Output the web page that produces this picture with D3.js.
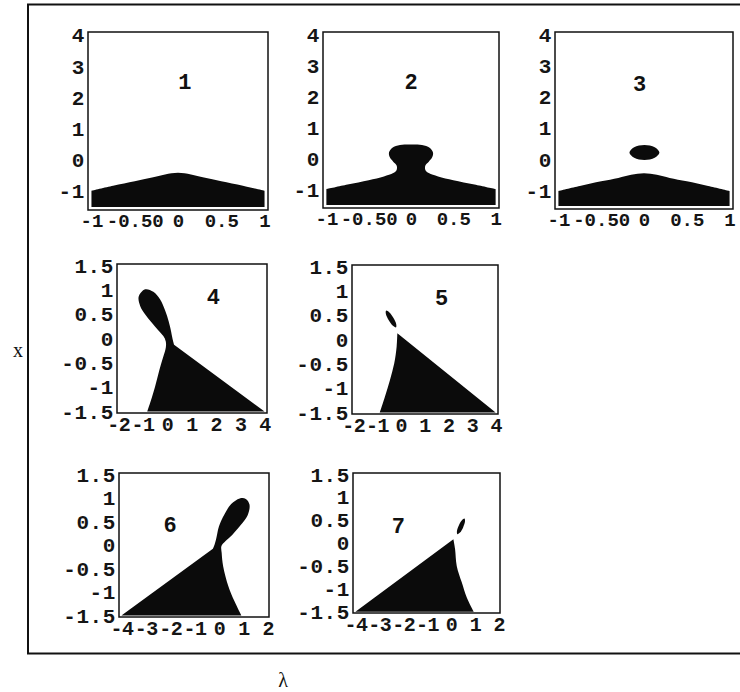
<!DOCTYPE html>
<html>
<head>
<meta charset="utf-8">
<script src="https://cdn.jsdelivr.net/npm/d3@7"></script>
<style>
  html, body { margin: 0; padding: 0; background: #fff; }
  svg { display: block; }
  .tick text { font-family: "Liberation Mono", "DejaVu Sans Mono", monospace; font-weight: bold; fill: #151515; }
  .xax .tick text { font-size: 19px; }
  .xax.tight .tick text { font-size: 20px; letter-spacing: -0.5px; }
  .yax .tick text { font-size: 21px; letter-spacing: 0.6px; }
  .num { font-family: "Liberation Mono", monospace; font-weight: bold; font-size: 22px; fill: #111; }
  .title { font-family: "Liberation Serif", serif; fill: #111; }
</style>
</head>
<body>
<svg id="chart" width="740" height="692"></svg>
<script>
// ---- tick values and their printed labels ----
const topXTicks = [-1, -0.5, 0, 0.5, 1];
const topXLabels = ["-1", "-0.50", "0", "0.5", "1"];
const topYTicks = [-1, 0, 1, 2, 3, 4];
const midXTicks = [-2, -1, 0, 1, 2, 3, 4];
const lowXTicks = [-4, -3, -2, -1, 0, 1, 2];
const lowYTicks = [-1.5, -1, -0.5, 0, 0.5, 1, 1.5];

// ---- panel captions and their (λ, x) anchor ----
const panelNames = ["1", "2", "3", "4", "5", "6", "7"];
const panelNameAt = [[0.08, 2.45], [0.0, 2.42], [-0.05, 2.38], [1.9, 0.83], [1.72, 0.83], [-2.0, 0.4], [-2.2, 0.34]];

// ---- region boundaries, points are (λ, x) ----
// panel 1: dome over the floor
const p1Edge = [[-1, -0.98], [-0.75, -0.82], [-0.5, -0.68], [-0.3, -0.56], [-0.15, -0.46], [0, -0.41],
                [0.15, -0.46], [0.3, -0.56], [0.5, -0.68], [0.75, -0.82], [1, -0.98]];
const p1Floor = [[1, -1.5], [-1, -1.5]];

// panel 2: dome with a bulb on top
const p2Edge = [[-1, -0.99], [-0.75, -0.84], [-0.5, -0.7], [-0.32, -0.58], [-0.21, -0.47], [-0.17, -0.37],
                [-0.17, -0.22], [-0.21, -0.1], [-0.25, 0.04], [-0.26, 0.2], [-0.22, 0.35], [-0.13, 0.44],
                [0, 0.46], [0.13, 0.44], [0.22, 0.35], [0.26, 0.2], [0.25, 0.04], [0.21, -0.1],
                [0.17, -0.22], [0.17, -0.37], [0.21, -0.47], [0.32, -0.58], [0.5, -0.7], [0.75, -0.84], [1, -0.99]];
const p2Floor = [[1, -1.5], [-1, -1.5]];

// panel 3: dome plus a detached island
const p3Edge = [[-1, -1.02], [-0.75, -0.86], [-0.5, -0.71], [-0.3, -0.6], [-0.15, -0.5], [0, -0.45],
                [0.15, -0.5], [0.3, -0.6], [0.5, -0.71], [0.75, -0.86], [1, -1.02]];
const p3Floor = [[1, -1.5], [-1, -1.5]];
const p3Island = [[0.18, 0.22], [0.125, 0.39], [0.005, 0.46], [-0.115, 0.39], [-0.17, 0.22],
                  [-0.115, 0.05], [0.005, -0.02], [0.125, 0.05]];

// panel 4: wedge joined to a lobe through a neck
const p4Edge = [[-0.81, -1.5], [-0.67, -1.29], [-0.49, -0.99], [-0.31, -0.64], [-0.15, -0.37], [-0.05, -0.19],
                [-0.05, -0.06], [-0.15, 0.05], [-0.36, 0.17], [-0.63, 0.33], [-0.9, 0.5], [-1.1, 0.67],
                [-1.16, 0.86], [-0.9, 1.01], [-0.56, 0.96], [-0.28, 0.8], [-0.08, 0.58], [0.07, 0.35],
                [0.17, 0.14], [0.22, 0.01], [0.29, -0.13]];
const p4Straight = [[4, -1.5]];

// panel 5: wedge plus a thin island
const p5Edge = [[-0.14, 0.13], [-0.17, -0.15], [-0.27, -0.49], [-0.45, -0.83], [-0.66, -1.17], [-0.88, -1.5]];
const p5Straight = [[4, -1.5]];
const p5Island = [[-0.615, 0.592], [-0.485, 0.562], [-0.309, 0.449], [-0.189, 0.319], [-0.196, 0.25],
                  [-0.326, 0.28], [-0.502, 0.393], [-0.622, 0.523]];

// panel 6: wedge joined to a lobe through a neck
const p6Edge = [[0.92, -1.5], [0.63, -1.19], [0.38, -0.87], [0.17, -0.45], [0.11, -0.17], [0.1, -0.02],
                [0.26, 0.08], [0.55, 0.22], [0.9, 0.43], [1.18, 0.64], [1.25, 0.86], [1.1, 0.98],
                [0.85, 0.99], [0.5, 0.87], [0.22, 0.65], [0.0, 0.4], [-0.12, 0.12], [-0.18, 0.01], [-0.25, -0.08]];
const p6Straight = [[-4, -1.5]];

// panel 7: wedge plus a thin island
const p7Edge = [[0.1, 0.08], [0.17, -0.13], [0.24, -0.5], [0.45, -0.86], [0.66, -1.19], [0.95, -1.5]];
const p7Straight = [[-4, -1.5]];
const p7Island = [[0.565, 0.534], [0.585, 0.468], [0.507, 0.341], [0.376, 0.227], [0.268, 0.192],
                  [0.248, 0.258], [0.326, 0.385], [0.458, 0.498]];

// ---- layout ----
const topDomX = [-1.04, 1.04], topDomY = [-1.6, 4.1];
const midDomX = [-2.05, 4.1], lowDomX = [-4.1, 2.05], sqDomY = [-1.53, 1.53];
const plain = d => String(d);
const topFmt = d => topXLabels[topXTicks.indexOf(d)];

const panels = [
  { box: [88, 32, 268, 210],  dx: topDomX, dy: topDomY, xt: topXTicks, xf: topFmt, yt: topYTicks, tight: false,
    regions: [{ edge: p1Edge, straight: p1Floor }], islands: [] },
  { box: [323, 32, 499, 208], dx: topDomX, dy: topDomY, xt: topXTicks, xf: topFmt, yt: topYTicks, tight: false,
    regions: [{ edge: p2Edge, straight: p2Floor }], islands: [] },
  { box: [555, 32, 733, 209], dx: topDomX, dy: topDomY, xt: topXTicks, xf: topFmt, yt: topYTicks, tight: false,
    regions: [{ edge: p3Edge, straight: p3Floor }], islands: [p3Island] },
  { box: [117, 264, 267, 413], dx: midDomX, dy: sqDomY, xt: midXTicks, xf: plain, yt: lowYTicks, tight: true,
    regions: [{ edge: p4Edge, straight: p4Straight }], islands: [] },
  { box: [352, 265, 498, 414], dx: midDomX, dy: sqDomY, xt: midXTicks, xf: plain, yt: lowYTicks, tight: true,
    regions: [{ edge: p5Edge, straight: p5Straight }], islands: [p5Island] },
  { box: [119, 473, 269, 617], dx: lowDomX, dy: sqDomY, xt: lowXTicks, xf: plain, yt: lowYTicks, tight: true,
    regions: [{ edge: p6Edge, straight: p6Straight }], islands: [] },
  { box: [353, 473, 500, 613], dx: lowDomX, dy: sqDomY, xt: lowXTicks, xf: plain, yt: lowYTicks, tight: true,
    regions: [{ edge: p7Edge, straight: p7Straight }], islands: [p7Island] }
];

const svg = d3.select("#chart");

// outer frame (runs off the right edge)
svg.append("rect")
  .attr("x", 28).attr("y", 4.5).attr("width", 760).attr("height", 649)
  .attr("fill", "none").attr("stroke", "#111").attr("stroke-width", 2);

panels.forEach((p, i) => {
  const [x0, y0, x1, y1] = p.box;
  const sx = d3.scaleLinear().domain(p.dx).range([x0, x1]);
  const sy = d3.scaleLinear().domain(p.dy).range([y1, y0]);
  const g = svg.append("g");

  const open = d3.line().x(d => sx(d[0])).y(d => sy(d[1])).curve(d3.curveCatmullRom.alpha(0.5));
  const closed = d3.line().x(d => sx(d[0])).y(d => sy(d[1])).curve(d3.curveCatmullRomClosed.alpha(0.5));

  p.regions.forEach(r => {
    let s = open(r.edge);
    r.straight.forEach(q => { s += `L${sx(q[0])},${sy(q[1])}`; });
    g.append("path").attr("d", s + "Z").attr("fill", "#0b0b0b");
  });
  p.islands.forEach(isl => {
    g.append("path").attr("d", closed(isl)).attr("fill", "#0b0b0b");
  });

  g.append("rect")
    .attr("x", x0).attr("y", y0).attr("width", x1 - x0).attr("height", y1 - y0)
    .attr("fill", "none").attr("stroke", "#111").attr("stroke-width", 1.5);

  g.append("g").attr("class", p.tight ? "xax tight" : "xax").attr("transform", `translate(0,${y1})`)
    .call(d3.axisBottom(sx).tickValues(p.xt).tickFormat(p.xf).tickSize(0).tickPadding(4))
    .call(a => a.select(".domain").remove());
  g.append("g").attr("class", "yax").attr("transform", `translate(${x0},0)`)
    .call(d3.axisLeft(sy).tickValues(p.yt).tickFormat(plain).tickSize(0).tickPadding(3))
    .call(a => a.select(".domain").remove());

  g.append("text").attr("class", "num")
    .attr("x", sx(panelNameAt[i][0])).attr("y", sy(panelNameAt[i][1]))
    .attr("text-anchor", "middle").attr("dominant-baseline", "central")
    .text(panelNames[i]);
});

// axis titles
svg.append("text").attr("class", "title")
  .attr("x", 18).attr("y", 350).attr("text-anchor", "middle").attr("dominant-baseline", "central")
  .attr("font-size", 20).text("x");
svg.append("text").attr("class", "title")
  .attr("x", 283).attr("y", 680).attr("text-anchor", "middle").attr("dominant-baseline", "central")
  .attr("font-size", 20).text("λ");
</script>
</body>
</html>
